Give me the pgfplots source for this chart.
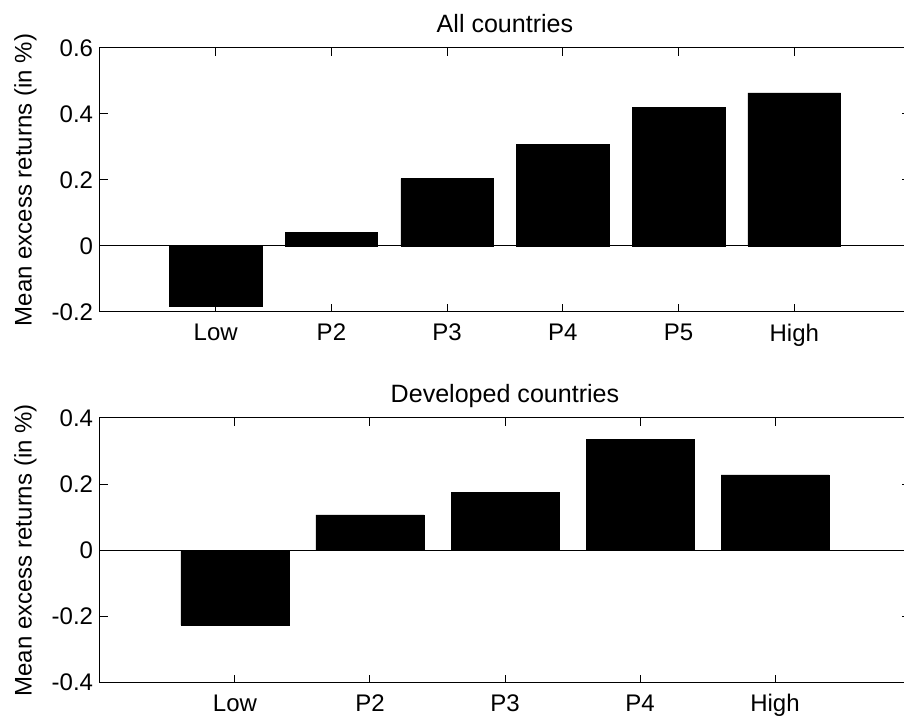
\documentclass[border=0pt]{standalone}
\usepackage{pgfplots}
\pgfplotsset{compat=1.18}
\usepackage{fontspec}
\setmainfont{Liberation Sans}

\pgfplotstableread{
x y
1 -0.184
2 0.040
3 0.204
4 0.309
5 0.421
6 0.464
}\tableall

\pgfplotstableread{
x y
1 -0.226
2 0.107
3 0.175
4 0.336
5 0.228
}\tabledev

\pgfplotsset{
  matstyle/.style={
    scale only axis,
    width=607.5pt,
    anchor=south west,
    xmin=0,
    ybar,
    bar width=0.8,
    axis line style={line width=0.75pt, black},
    every tick/.style={line width=0.75pt, black},
    major tick length=6pt,
    tick align=inside,
    tick pos=both,
    axis on top=false,
    ticklabel style={font=\fontsize{18}{21.6}\selectfont},
    xticklabel style={anchor=north, inner sep=0pt, yshift=-8.7pt},
    yticklabel style={anchor=east, inner sep=0pt, xshift=-5pt},
    every axis title/.style={at={(0.5,1)}, anchor=base, yshift=11.5pt, font=\fontsize{18.8}{22}\selectfont},
    every axis y label/.style={at={(axis description cs:-0.0843,0.5)}, rotate=90, anchor=base, font=\fontsize{18}{21.6}\selectfont},
    ylabel={Mean excess returns (in \%)},
  }
}

\begin{document}
\begin{tikzpicture}
\useasboundingbox (0,0) rectangle (678pt,540pt);

\begin{axis}[matstyle,
  at={(75pt,306pt)},
  height=198pt,
  xmax=7,
  ymin=-0.2, ymax=0.6,
  xtick={1,2,3,4,5,6},
  xticklabels={Low,P2,P3,P4,P5,High},
  ytick={-0.2,0,0.2,0.4,0.6},
  yticklabels={-0.2,0,0.2,0.4,0.6},
  title={All countries},
]
\addplot[fill=black, draw=black, line width=0.5pt] table[x=x,y=y] {\tableall};
\addplot[sharp plot, black, line width=0.75pt, forget plot] coordinates {(0,0) (7,0)};
\end{axis}

\begin{axis}[matstyle,
  at={(75pt,28pt)},
  height=198.5pt,
  xmax=6,
  ymin=-0.4, ymax=0.4,
  xtick={1,2,3,4,5},
  xticklabels={Low,P2,P3,P4,High},
  ytick={-0.4,-0.2,0,0.2,0.4},
  yticklabels={-0.4,-0.2,0,0.2,0.4},
  title={Developed countries},
]
\addplot[fill=black, draw=black, line width=0.5pt] table[x=x,y=y] {\tabledev};
\addplot[sharp plot, black, line width=0.75pt, forget plot] coordinates {(0,0) (6,0)};
\end{axis}
\end{tikzpicture}
\end{document}
